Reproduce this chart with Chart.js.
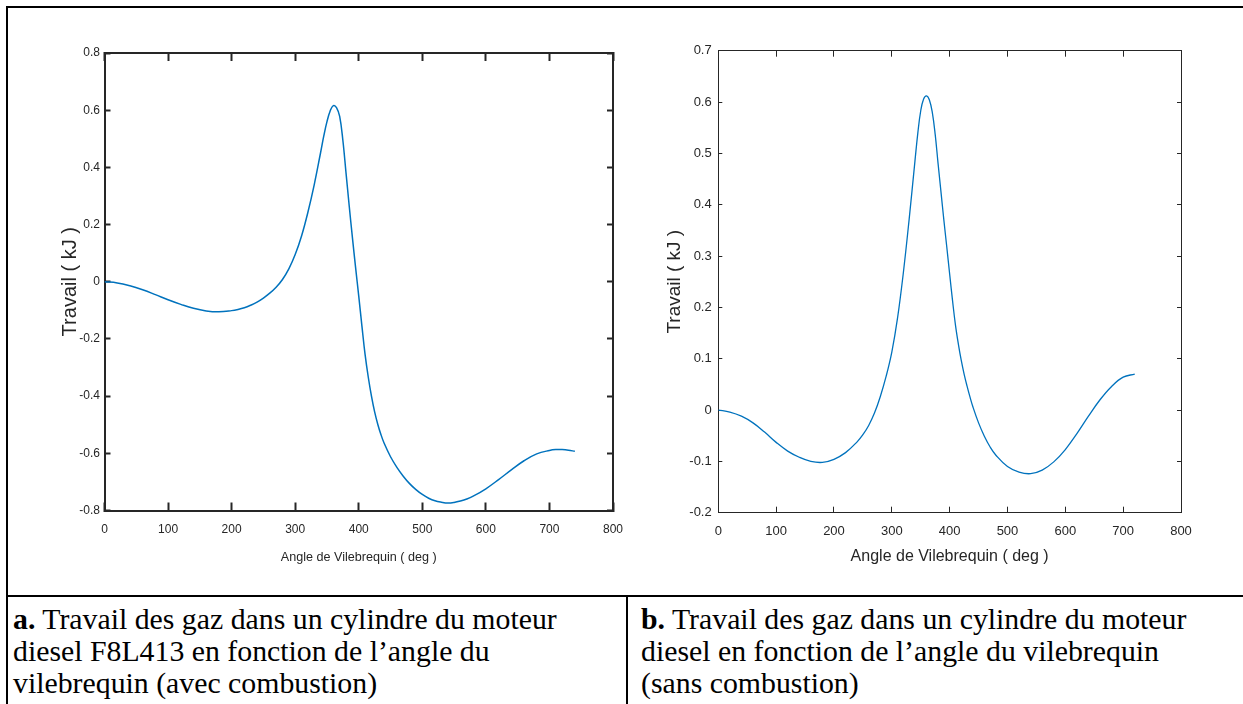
<!DOCTYPE html>
<html><head><meta charset="utf-8">
<script src="https://cdn.jsdelivr.net/npm/chart.js@4.4.1/dist/chart.umd.min.js"></script>
<style>
html,body{margin:0;padding:0;background:#fff;width:1243px;height:704px;overflow:hidden;position:relative}
.ln{position:absolute;background:#000}
.wrap{position:absolute}
.cap{position:absolute;font-family:'Liberation Serif','Times New Roman',serif;font-size:29.8px;line-height:32px;color:#000;white-space:nowrap}
</style></head><body>
<div class="ln" style="left:6px;top:6px;width:1237px;height:2px"></div>
<div class="ln" style="left:6px;top:6px;width:2px;height:698px"></div>
<div class="ln" style="left:6px;top:595px;width:1237px;height:2px"></div>
<div class="ln" style="left:626px;top:596px;width:2px;height:108px"></div>
<div class="wrap" style="left:0;top:0;width:650px;height:590px"><canvas id="ca"></canvas></div>
<div class="wrap" style="left:625px;top:0;width:618px;height:590px"><canvas id="cb"></canvas></div>
<div class="cap" style="left:13px;top:603px"><b>a.</b> Travail des gaz dans un cylindre du moteur<br>diesel F8L413 en fonction de l’angle du<br>vilebrequin (avec combustion)</div>
<div class="cap" style="left:641px;top:603px"><b>b.</b> Travail des gaz dans un cylindre du moteur<br>diesel en fonction de l’angle du vilebrequin<br>(sans combustion)</div>
<script>
// ---- data ----
const anglesA = [0,20,40,60,80,100,120,140,160,180,200,210,220,230,240,250,260,270,280,290,300,310,320,330,340,345,350,355,360,365,370,375,380,385,390,395,400,405,410,415,420,425,430,435,440,450,460,470,480,490,500,510,520,530,540,550,560,570,580,600,620,640,660,680,700,710,720,730,740];
const workA = [0,-0.004,-0.014,-0.028,-0.045,-0.063,-0.079,-0.093,-0.102,-0.105,-0.101,-0.097,-0.091,-0.082,-0.071,-0.057,-0.040,-0.019,0.008,0.045,0.095,0.160,0.243,0.340,0.452,0.510,0.560,0.597,0.616,0.609,0.578,0.495,0.380,0.265,0.155,0.050,-0.050,-0.155,-0.255,-0.334,-0.400,-0.455,-0.499,-0.535,-0.565,-0.612,-0.649,-0.680,-0.706,-0.727,-0.744,-0.757,-0.766,-0.771,-0.774,-0.772,-0.767,-0.760,-0.750,-0.724,-0.692,-0.658,-0.626,-0.602,-0.590,-0.587,-0.587,-0.589,-0.593];
const anglesB = [0,20,40,60,80,100,120,140,160,180,200,220,240,250,260,270,280,290,300,310,320,330,340,345,350,355,360,365,370,375,380,385,390,395,400,405,410,415,420,425,430,435,440,450,460,470,480,500,520,540,560,580,600,620,640,660,680,700,720];
const workB = [0,-0.004,-0.012,-0.025,-0.043,-0.063,-0.080,-0.092,-0.100,-0.102,-0.096,-0.083,-0.062,-0.048,-0.030,-0.006,0.026,0.065,0.113,0.180,0.268,0.372,0.485,0.540,0.583,0.606,0.612,0.604,0.580,0.537,0.480,0.425,0.370,0.318,0.265,0.213,0.166,0.129,0.097,0.070,0.047,0.026,0.007,-0.025,-0.051,-0.072,-0.088,-0.110,-0.121,-0.124,-0.117,-0.101,-0.077,-0.046,-0.012,0.020,0.046,0.064,0.070];
const xTickValues = [0,100,200,300,400,500,600,700,800];
const xTickLabels = ['0','100','200','300','400','500','600','700','800'];
const yTickValuesA = [-0.8,-0.6,-0.4,-0.2,0,0.2,0.4,0.6,0.8];
const yTickLabelsA = ['-0.8','-0.6','-0.4','-0.2','0','0.2','0.4','0.6','0.8'];
const yTickValuesB = [-0.2,-0.1,0,0.1,0.2,0.3,0.4,0.5,0.6,0.7];
const yTickLabelsB = ['-0.2','-0.1','0','0.1','0.2','0.3','0.4','0.5','0.6','0.7'];
const xTitle = 'Angle de Vilebrequin ( deg )';
const yTitle = 'Travail ( kJ )';

const AX = '#262626';
const BLUE = '#0072BD';

function hasFont(name){
  const c = document.createElement('canvas').getContext('2d');
  const s = 'mmmmwwwwiiii0123456789';
  const r = [];
  for (const base of ['monospace','serif']) {
    c.font = '72px ' + base; const w0 = c.measureText(s).width;
    c.font = "72px '" + name + "'," + base; const w1 = c.measureText(s).width;
    r.push(w0 !== w1);
  }
  return r[0] || r[1];
}
const SANS = "'Liberation Sans',Arial,Helvetica,sans-serif";
const narrowOK = hasFont('Liberation Sans Narrow');
const NARROW = narrowOK ? "'Liberation Sans Narrow',sans-serif" : SANS;
const nScale = narrowOK ? 1.2 : 1.0;

function setTicks(vals){ return function(s){ s.ticks = vals.map(v=>({value:v})); }; }

function makeChart(id, angles, work, cfg){
  const pts = angles.map((a,i)=>({x:a, y:work[i]}));
  const tickFont = {family: cfg.tickFamily, size: cfg.tickSize};
  new Chart(document.getElementById(id), {
    type: 'line',
    data: {datasets: [{data: pts, borderColor: BLUE, borderWidth: cfg.lineW, pointRadius: 0, fill: false, tension: 0.4, xAxisID: 'x', yAxisID: 'y'}]},
    options: {
      responsive: true, maintainAspectRatio: false, animation: false, events: [],
      layout: {padding: cfg.pad},
      plugins: {legend: {display: false}, tooltip: {enabled: false}},
      scales: {
        x: {type: 'linear', position: 'bottom', min: 0, max: 800,
          afterBuildTicks: setTicks(xTickValues),
          afterFit: s => { s.height = cfg.xH; },
          ticks: {color: AX, font: tickFont, padding: cfg.xTickPad, maxRotation: 0, autoSkip: false, callback: (v,i)=>xTickLabels[i]},
          grid: {drawOnChartArea: false, drawTicks: true, tickLength: -cfg.xTL, tickWidth: cfg.axW, tickColor: AX},
          border: {display: true, color: AX, width: cfg.axW},
          title: {display: true, text: xTitle, color: AX, font: {family: cfg.xTitleFamily, size: cfg.xTitleSize}, padding: {top: 0, bottom: 0}}
        },
        x2: {type: 'linear', position: 'top', min: 0, max: 800,
          afterBuildTicks: setTicks(xTickValues),
          afterFit: s => { s.height = 0; },
          ticks: {display: false},
          grid: {drawOnChartArea: false, drawTicks: true, tickLength: -cfg.xTL, tickWidth: cfg.axW, tickColor: AX},
          border: {display: true, color: AX, width: cfg.axW}
        },
        y: {type: 'linear', position: 'left', min: cfg.yMin, max: cfg.yMax,
          afterBuildTicks: setTicks(cfg.yVals),
          afterFit: s => { s.width = cfg.yW; },
          ticks: {color: AX, font: tickFont, padding: cfg.yTickPad, autoSkip: false, callback: (v,i)=>cfg.yLabs[i]},
          grid: {drawOnChartArea: false, drawTicks: true, tickLength: -cfg.yTL, tickWidth: cfg.axW, tickColor: AX},
          border: {display: true, color: AX, width: cfg.axW},
          title: {display: true, text: yTitle, color: AX, font: {family: cfg.yTitleFamily, size: cfg.yTitleSize}, padding: {top: cfg.yTitlePad, bottom: 0}}
        },
        y2: {type: 'linear', position: 'right', min: cfg.yMin, max: cfg.yMax,
          afterBuildTicks: setTicks(cfg.yVals),
          afterFit: s => { s.width = 0; },
          ticks: {display: false},
          grid: {drawOnChartArea: false, drawTicks: true, tickLength: -cfg.yTL, tickWidth: cfg.axW, tickColor: AX},
          border: {display: true, color: AX, width: cfg.axW}
        }
      }
    }
  });
}

const yTitleA = 20, yTitleB = 19;
makeChart('ca', anglesA, workA, {
  pad: {left: 0, top: 53, right: 37, bottom: 24.5},
  xH: 55, yW: 104.5, axW: 2, lineW: 1.5,
  xTL: 8, yTL: 6,
  tickFamily: NARROW, tickSize: 12 * nScale, xTickPad: 20, yTickPad: 10.5,
  xTitleFamily: NARROW, xTitleSize: 12.6 * nScale,
  yTitleFamily: SANS, yTitleSize: yTitleA, yTitlePad: 70 - yTitleA * 0.6,
  yMin: -0.8, yMax: 0.8, yVals: yTickValuesA, yLabs: yTickLabelsA
});
makeChart('cb', anglesB, workB, {
  pad: {left: 0, top: 50.7, right: 62, bottom: 24},
  xH: 53.3, yW: 93.3, axW: 1, lineW: 1.3,
  xTL: 6, yTL: 4,
  tickFamily: SANS, tickSize: 13, xTickPad: 17, yTickPad: 10.6,
  xTitleFamily: SANS, xTitleSize: 16,
  yTitleFamily: SANS, yTitleSize: yTitleB, yTitlePad: 49.5 - yTitleB * 0.6,
  yMin: -0.2, yMax: 0.7, yVals: yTickValuesB, yLabs: yTickLabelsB
});
</script>
</body></html>
